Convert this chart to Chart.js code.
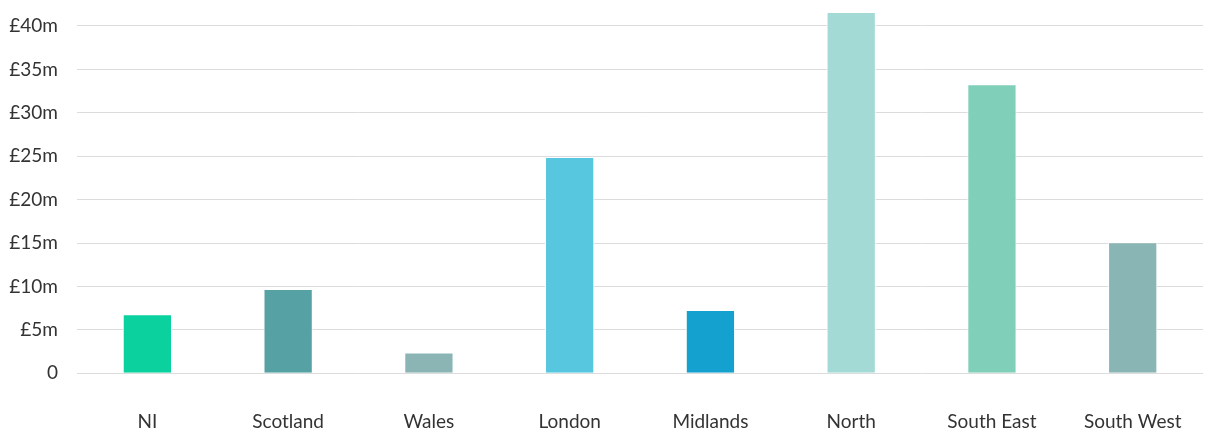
<!DOCTYPE html>
<html>
<head>
<meta charset="utf-8">
<script src="https://cdn.jsdelivr.net/npm/chart.js@4/dist/chart.umd.min.js"></script>
<style>
  html, body { margin: 0; padding: 0; background: #fff; overflow: hidden; }
  canvas { display: block; }
</style>
</head>
<body>
<canvas id="chart" width="1219" height="432"></canvas>
<script>
// Regional funding, in £ millions
const regions = ['NI', 'Scotland', 'Wales', 'London', 'Midlands', 'North', 'South East', 'South West'];
const funding = [6.8, 9.7, 2.4, 24.9, 7.3, 41.6, 33.3, 15.1];
const barColours = ['#0ad19d', '#55a1a4', '#8bb5b5', '#57c6df', '#15a1cf', '#a4dad5', '#80cfb8', '#8ab5b5'];
const yTicks = [0, 5, 10, 15, 20, 25, 30, 35, 40];

const tickLabel = v => (v === 0 ? '0' : '£' + v + 'm');
const labelFont = { family: 'Lato', size: 19 };

new Chart(document.getElementById('chart'), {
  type: 'bar',
  data: {
    labels: regions,
    datasets: [{
      data: funding,
      backgroundColor: barColours,
      borderColor: '#ffffff',
      borderWidth: 1,
      barPercentage: 0.35,
      categoryPercentage: 1
    }]
  },
  options: {
    responsive: false,
    animation: false,
    layout: { padding: { top: 8.6, right: 8, bottom: 0, left: 0 } },
    plugins: { legend: { display: false }, tooltip: { enabled: false } },
    scales: {
      x: {
        afterFit: s => { s.height = 58.7; },
        grid: { display: false, drawTicks: false },
        border: { display: false },
        ticks: {
          color: '#333333',
          padding: 37,
          font: labelFont,
          maxRotation: 0,
          autoSkip: false
        }
      },
      y: {
        min: 0,
        max: 42,
        bounds: 'data',
        afterFit: s => { s.width = 77; s.paddingTop = 0; s.paddingBottom = 0; },
        afterBuildTicks: s => { s.ticks = yTicks.map(v => ({ value: v })); },
        grid: { color: '#dcdcdc', lineWidth: 1, drawTicks: false },
        border: { display: false },
        ticks: {
          color: '#333333',
          padding: 19,
          includeBounds: false,
          font: labelFont,
          callback: tickLabel
        }
      }
    }
  }
});
</script>
</body>
</html>
